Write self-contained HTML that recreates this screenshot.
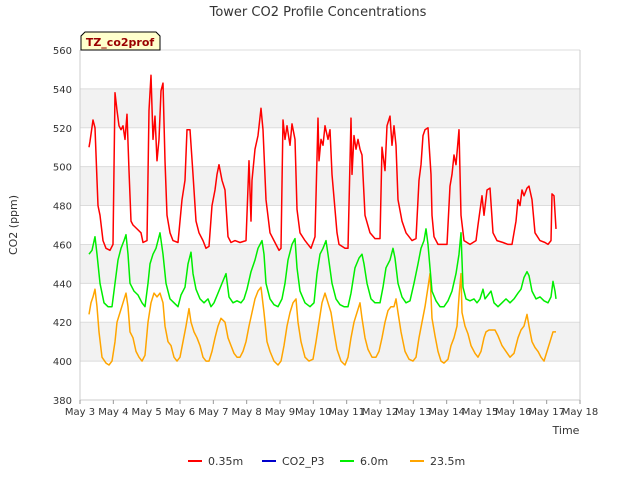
<!DOCTYPE html>
<html><head><meta charset="utf-8"><style>
body{margin:0;background:#fff;font-family:"Liberation Sans","DejaVu Sans",sans-serif;}
</style></head><body>
<svg id="chart" width="640" height="480" viewBox="0 0 640 480" xmlns="http://www.w3.org/2000/svg" font-family="DejaVu Sans, Liberation Sans, sans-serif">
<text x="318" y="16" text-anchor="middle" font-size="13" fill="#333">Tower CO2 Profile Concentrations</text>
<g id="bands"></g><g id="grid"></g><g id="series"></g><g id="axes"></g>
<text transform="translate(17,225) rotate(-90)" text-anchor="middle" font-size="11" fill="#333">CO2 (ppm)</text>
<text x="566" y="434" text-anchor="middle" font-size="11" fill="#333">Time</text>
<g>
<path d="M81,50 L81,36 L85,32 L156,32 L160,36 L160,50 Z" fill="#ffffcc" stroke="#000" stroke-width="1"/>
<text x="120" y="46" text-anchor="middle" font-size="11" font-weight="bold" fill="#990000">TZ_co2prof</text>
</g>
<g id="legend"></g>
</svg>
<script>
const yTicks=[380,400,420,440,460,480,500,520,540,560];
const xTickLabels=["May 3","May 4","May 5","May 6","May 7","May 8","May 9","May 10","May 11","May 12","May 13","May 14","May 15","May 16","May 17","May 18"];
const xTickDays=[3,4,5,6,7,8,9,10,11,12,13,14,15,16,17,18];
const seriesNames=["0.35m","CO2_P3","6.0m","23.5m"];
const seriesColors=["#ff0000","#0000cc","#00ee00","#ffa500"];
const redT=[3.27,3.30,3.39,3.45,3.51,3.54,3.60,3.69,3.78,3.90,3.99,4.05,4.11,4.17,4.23,4.29,4.35,4.41,4.47,4.53,4.59,4.71,4.83,4.89,5.01,5.07,5.13,5.19,5.25,5.31,5.37,5.43,5.49,5.55,5.61,5.70,5.79,5.94,6.06,6.15,6.21,6.30,6.39,6.48,6.57,6.69,6.78,6.87,6.96,7.05,7.11,7.17,7.26,7.35,7.44,7.53,7.65,7.80,7.98,8.07,8.13,8.16,8.25,8.34,8.43,8.49,8.58,8.70,8.82,8.97,9.03,9.09,9.15,9.21,9.30,9.36,9.45,9.51,9.60,9.75,9.93,10.05,10.14,10.17,10.23,10.29,10.35,10.44,10.50,10.56,10.65,10.71,10.77,10.95,11.04,11.13,11.16,11.22,11.28,11.34,11.40,11.46,11.55,11.70,11.85,12.00,12.06,12.15,12.21,12.30,12.36,12.42,12.48,12.54,12.66,12.78,12.96,13.08,13.17,13.23,13.29,13.35,13.44,13.53,13.56,13.62,13.74,13.89,14.01,14.10,14.16,14.22,14.28,14.37,14.43,14.52,14.70,14.88,14.94,15.06,15.12,15.21,15.30,15.39,15.51,15.69,15.84,15.96,16.08,16.14,16.20,16.26,16.32,16.41,16.47,16.56,16.65,16.80,16.95,17.04,17.13,17.16,17.22,17.28];
const redV=[510,513,524,520,493,480,475,462,458,457,460,538,529,521,519,521,514,527,498,472,470,468,466,461,462,529,547,514,526,503,514,539,543,503,475,466,462,461,483,493,519,519,496,472,466,462,458,459,480,488,496,501,493,488,464,461,462,461,462,503,472,493,509,516,530,519,483,466,462,457,458,524,514,521,511,522,514,478,466,462,458,464,525,503,514,511,521,514,519,496,478,466,460,458,458,525,496,516,509,514,509,506,475,466,463,463,510,498,521,526,511,521,511,483,472,466,462,463,493,501,516,519,520,496,475,464,460,460,460,490,496,506,501,519,475,462,460,462,470,485,475,488,489,466,462,461,460,460,472,483,480,488,485,489,490,483,466,462,461,460,462,486,485,468];
const greenT=[3.27,3.36,3.45,3.51,3.60,3.72,3.84,3.96,4.05,4.14,4.23,4.32,4.38,4.44,4.50,4.62,4.74,4.86,4.95,5.04,5.10,5.19,5.28,5.40,5.49,5.58,5.70,5.82,5.94,6.03,6.15,6.24,6.33,6.39,6.48,6.60,6.72,6.84,6.93,7.02,7.14,7.26,7.38,7.47,7.59,7.71,7.83,7.92,8.01,8.13,8.25,8.34,8.46,8.52,8.58,8.70,8.82,8.94,9.06,9.15,9.24,9.36,9.45,9.51,9.60,9.75,9.90,10.02,10.11,10.20,10.29,10.38,10.44,10.56,10.68,10.80,10.92,11.04,11.13,11.25,11.37,11.46,11.52,11.61,11.73,11.85,12.00,12.09,12.18,12.30,12.39,12.45,12.54,12.66,12.78,12.90,13.02,13.14,13.23,13.32,13.38,13.44,13.50,13.56,13.68,13.80,13.92,14.04,14.16,14.28,14.37,14.43,14.49,14.58,14.70,14.82,14.91,15.00,15.09,15.15,15.24,15.33,15.42,15.54,15.66,15.78,15.90,16.02,16.14,16.23,16.32,16.41,16.47,16.56,16.68,16.80,16.92,17.04,17.13,17.19,17.25,17.28];
const greenV=[455,457,464,455,440,430,428,428,440,452,458,462,465,455,440,436,434,430,428,440,450,455,458,466,455,440,432,430,428,434,438,450,456,445,437,432,430,432,428,430,435,440,445,433,430,431,430,432,437,446,452,458,462,455,440,432,429,428,432,440,452,460,463,448,436,430,428,430,445,455,458,462,455,440,432,429,428,428,435,448,453,455,450,440,432,430,430,438,448,452,458,453,440,433,430,431,440,450,458,462,468,460,448,436,431,428,428,431,436,445,455,466,438,432,431,432,430,432,437,432,434,436,430,428,430,432,430,432,435,437,443,446,444,436,432,433,431,430,433,441,436,432];
const orangeT=[3.27,3.33,3.39,3.45,3.51,3.57,3.66,3.78,3.87,3.96,4.05,4.11,4.20,4.29,4.38,4.44,4.50,4.59,4.68,4.77,4.86,4.95,5.04,5.13,5.22,5.31,5.40,5.49,5.55,5.64,5.73,5.82,5.91,6.00,6.09,6.18,6.27,6.33,6.42,6.51,6.60,6.69,6.78,6.87,6.96,7.05,7.14,7.23,7.35,7.44,7.53,7.62,7.71,7.80,7.89,7.98,8.07,8.16,8.25,8.34,8.43,8.52,8.61,8.70,8.82,8.94,9.03,9.12,9.21,9.30,9.39,9.48,9.54,9.63,9.75,9.87,9.99,10.08,10.17,10.26,10.35,10.44,10.53,10.62,10.71,10.83,10.95,11.04,11.13,11.22,11.31,11.40,11.46,11.55,11.64,11.76,11.88,11.97,12.06,12.15,12.24,12.33,12.42,12.48,12.54,12.63,12.75,12.87,12.99,13.08,13.17,13.26,13.35,13.44,13.50,13.56,13.65,13.74,13.83,13.92,14.04,14.13,14.22,14.31,14.37,14.43,14.46,14.55,14.64,14.73,14.85,14.94,15.03,15.12,15.18,15.27,15.36,15.45,15.54,15.66,15.78,15.90,16.02,16.14,16.23,16.32,16.41,16.47,16.56,16.65,16.74,16.83,16.92,17.01,17.10,17.19,17.28];
const orangeV=[424,430,433,437,428,415,402,399,398,400,410,420,425,430,435,428,415,412,405,402,400,403,420,430,435,433,435,430,418,410,408,402,400,402,410,418,427,420,415,412,408,402,400,400,405,412,418,422,420,412,408,404,402,402,405,410,418,425,432,436,438,425,410,405,400,398,400,408,418,425,430,432,420,410,402,400,401,410,420,430,435,430,425,415,406,400,398,402,412,420,425,430,422,412,406,402,402,405,412,420,426,428,428,432,425,415,405,401,400,402,412,420,428,438,445,422,413,405,400,399,401,408,412,418,433,445,425,418,414,408,404,402,405,412,415,416,416,416,413,408,405,402,404,412,416,418,424,418,410,407,405,402,400,405,410,415,415];

const NS="http://www.w3.org/2000/svg";
const X0=80,X1=580,Y0=400,Y1=50;
const xS=d=>X0+(d-3)/15*(X1-X0);
const yS=v=>Y0-(v-380)/180*(Y0-Y1);
function mk(tag,attrs,parent){const e=document.createElementNS(NS,tag);for(const k in attrs)e.setAttribute(k,attrs[k]);parent.appendChild(e);return e;}
const bands=document.getElementById('bands'),grid=document.getElementById('grid'),axes=document.getElementById('axes'),series=document.getElementById('series'),legend=document.getElementById('legend');
for(let i=0;i<yTicks.length-1;i++){
  if(i%2===1){const b=mk('rect',{x:X0,y:yS(yTicks[i+1]),width:X1-X0,height:yS(yTicks[i])-yS(yTicks[i+1]),fill:'#f2f2f2'},bands);
  
  }
}
yTicks.forEach(v=>{
  const l=mk('line',{x1:X0,x2:X1,y1:yS(v),y2:yS(v),stroke:'#dcdcdc','stroke-width':1},grid);
  
  
  const t=mk('text',{x:X0-8,y:yS(v)+4,'text-anchor':'end','font-size':10,fill:'#333'},axes);t.textContent=v;
  
  
});
mk('line',{x1:X0,x2:X0,y1:Y1,y2:Y0,stroke:'#ccc'},axes);
mk('line',{x1:X1,x2:X1,y1:Y1,y2:Y0,stroke:'#ccc'},axes);
mk('line',{x1:X0,x2:X1,y1:Y0,y2:Y0,stroke:'#ccc'},axes);
xTickDays.forEach((d,i)=>{
  mk('line',{x1:xS(d),x2:xS(d),y1:Y0,y2:Y0+4,stroke:'#999'},axes);
  const t=mk('text',{x:xS(d),y:Y0+15,'text-anchor':'middle','font-size':10,fill:'#333'},axes);t.textContent=xTickLabels[i];
  
  
});
function line(T,V,color,name){
  const p=mk('polyline',{points:T.map((t,i)=>xS(t).toFixed(1)+','+yS(V[i]).toFixed(1)).join(' '),fill:'none',stroke:color,'stroke-width':1.5,'stroke-linejoin':'round'},series);
  
  
}
line(orangeT,orangeV,seriesColors[3],'series-23-5m');
line(greenT,greenV,seriesColors[2],'series-6-0m');
line(redT,redV,seriesColors[0],'series-0-35m');
const lx=[188,262,340,410];
seriesNames.forEach((n,i)=>{
  const g=mk('g',{},legend);
  
  
  mk('line',{x1:lx[i],x2:lx[i]+14,y1:461,y2:461,stroke:seriesColors[i],'stroke-width':2},g);
  const t=mk('text',{x:lx[i]+20,y:465,'font-size':11,fill:'#333'},g);t.textContent=n;
});
</script>
</body></html>
